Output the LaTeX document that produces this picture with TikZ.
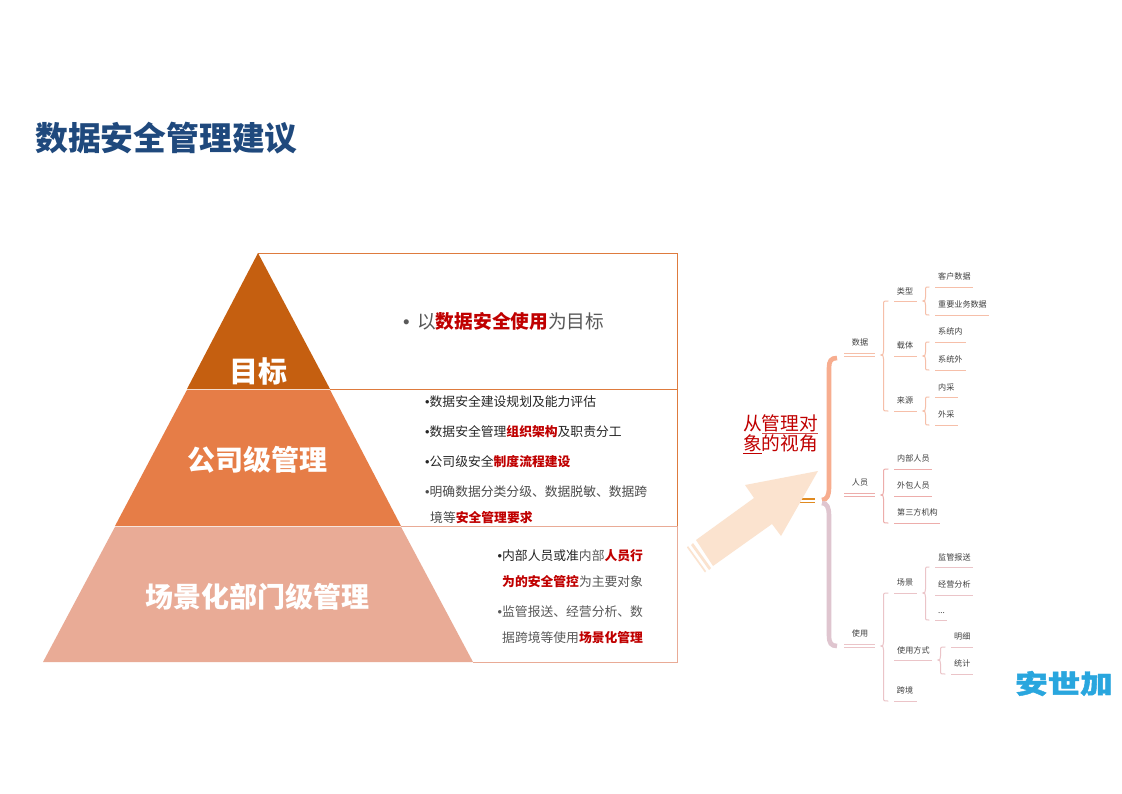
\documentclass[tikz,border=0pt]{standalone}
\usepackage{fontspec}
\usetikzlibrary{calc}
\setmainfont{Noto Sans CJK SC}
\newfontfamily\bulfont{Liberation Sans}
\newfontfamily\logofont[BoldFeatures={FakeBold=1.6}]{Noto Sans CJK SC}
\definecolor{titleblue}{HTML}{1F497D}
\definecolor{tierA}{HTML}{C55F10}
\definecolor{tierB}{HTML}{E67D47}
\definecolor{tierC}{HTML}{E9AB96}
\definecolor{frameA}{HTML}{DE7B3E}
\definecolor{hired}{HTML}{C00000}
\definecolor{txtdark}{HTML}{262626}
\definecolor{txtgrey}{HTML}{595959}
\definecolor{arrowfill}{HTML}{FBE3CF}
\definecolor{brA}{HTML}{F7AD8F}
\definecolor{brC}{HTML}{DFC5CF}
\definecolor{lineA}{HTML}{F6BFA9}
\definecolor{lineB}{HTML}{EDADAB}
\definecolor{lineC}{HTML}{EBC4C8}
\definecolor{stem}{HTML}{E08A20}
\definecolor{logo}{HTML}{29A6DE}
\newcommand{\hl}[1]{{\bfseries\color{hired}#1}}
\newcommand{\bul}{{\bulfont •}}
\newcommand{\fs}[1]{\fontsize{#1}{#1}\selectfont}
\tikzset{
  txt/.style={inner sep=0pt,anchor=west,font=\fs{12.8},text=txtdark},
  tiertxt/.style={inner sep=0pt,text=white,font=\fs{28}\bfseries},
  mm/.style={inner sep=0pt,text=black!75,font=\fs{8.1}},
}
% \lab{name}{text x left}{text y}{text}
\newcommand{\lab}[4]{%
  \node[mm,anchor=west] (#1) at (#2,#3) {#4};
}
\newcommand{\ul}[5]{%
  \coordinate (#1-l) at (#2,#4);
  \coordinate (#1-r) at (#3,#4);
  \draw[#5,line width=1pt] (#1-l) -- (#1-r);
}
\newcommand{\dul}[5]{%
  \coordinate (#1-l) at (#2,#4);
  \coordinate (#1-r) at (#3,#4);
  \draw[#5,line width=1.1pt] ($(#1-l)+(0,-1.5)$) -- ($(#1-r)+(0,-1.5)$);
  \draw[#5,line width=1.1pt] ($(#1-l)+(0,1.5)$) -- ($(#1-r)+(0,1.5)$);
}
% \brc{parent}{top child}{bottom child}{colour}
\newcommand{\brc}[4]{%
  \draw[#4,line width=1pt,line cap=round] let \p1=(#1-r), \p2=(#2-l), \p3=(#3-l) in
    ({\x2-6pt},\y2) .. controls ({\x1+8.5pt},\y2) and ({\x1+8.5pt},\y2) .. ({\x1+8.5pt},{\y2-4pt})
    -- ({\x1+8.5pt},{\y1+4pt}) .. controls ({\x1+8.5pt},{\y1+1pt}) and ({\x1+8pt},\y1) .. ({\x1+6pt},\y1)
    .. controls ({\x1+8pt},\y1) and ({\x1+8.5pt},{\y1-1pt}) .. ({\x1+8.5pt},{\y1-4pt})
    -- ({\x1+8.5pt},{\y3+4pt}) .. controls ({\x1+8.5pt},\y3) and ({\x1+8.5pt},\y3) .. ({\x2-6pt},\y3);
}
\begin{document}
\begin{tikzpicture}[x=1pt,y=-1pt]
\useasboundingbox (0,0) rectangle (1122,793);
\fill[white] (0,0) rectangle (1122,793);

\node[inner sep=0pt,anchor=west,text=titleblue,font=\fs{32.8}\bfseries] (title) at (35,138.5) {数据安全管理建议};

% frames
\draw[frameA,line width=.9pt] (258,253) -- (677,253) -- (677,389);
\draw[frameA,line width=.9pt] (330,389) -- (677,389) -- (677,526);
\draw[tierC,line width=.9pt] (401,526) -- (677,526) -- (677,662) -- (473,662);

% pyramid
\fill[tierA] (258,253) -- (330,389) -- (187,389) -- cycle;
\fill[tierB] (187,389.8) -- (330,389.8) -- (401,526) -- (115,526) -- cycle;
\fill[tierC] (115,526.8) -- (401,526.8) -- (473,662) -- (43,662) -- cycle;
\node[tiertxt,font=\fs{29}\bfseries] (t1) at (258,371) {目标};
\node[tiertxt] (t2) at (257.5,459.5) {公司级管理};
\node[tiertxt] (t3) at (257,596.5) {场景化部门级管理};

% right text
\node[txt,font=\fs{18.7},text=txtgrey] (a1) at (403,321) {\bul\hspace{7.5pt}以\hl{数据安全使用}为目标};
\node[txt] (b1) at (425,402) {\bul 数据安全建设规划及能力评估};
\node[txt] (b2) at (425,432) {\bul 数据安全管理\hl{组织架构}及职责分工};
\node[txt] (b3) at (425,462) {\bul 公司级安全\hl{制度流程建设}};
\node[txt,text=txtgrey!85!black] (b4) at (425,491.5) {\bul 明确数据分类分级、数据脱敏、数据跨};
\node[txt,text=txtgrey!85!black] (b5) at (430,517.5) {境等\hl{安全管理要求}};
\node[txt] (c1) at (497.5,556) {\bul 内部人员或准{\color{txtgrey}内部}\hl{人员行}};
\node[txt,text=txtgrey] (c2) at (502,582) {\hl{为的安全管控}为主要对象};
\node[txt,text=txtgrey] (c3) at (497.5,612) {\bul 监管报送、经营分析、数};
\node[txt,text=txtgrey] (c4) at (502,638) {据跨境等使用\hl{场景化管理}};

% main brace
\draw[brA,line width=4.6pt] (837,358) .. controls (831,358) and (829,361) .. (829,368) -- (829,488) .. controls (829,495) and (827,500) .. (822,500);
\draw[brC,line width=4.6pt] (822,503) .. controls (827,503) and (829,508) .. (829,515) -- (829,635) .. controls (829,643) and (831,646) .. (837,646);
\draw[stem,line width=1.7pt] (800,499.3) -- (815,499.3);
\draw[stem,line width=1.7pt] (800,502.5) -- (815,502.5);

% arrow
\fill[arrowfill] (818,471) -- (745,485) -- (754,498) -- (696,540) -- (713,566) -- (772,524) -- (781,536) -- cycle;
\fill[arrowfill] (693,543) -- (711,568) -- (709,570) -- (691,545) -- cycle;
\fill[arrowfill] (688,546) -- (706,571) -- (705,572.5) -- (687,547.5) -- cycle;

% arrow label
\node[inner sep=0pt,anchor=west,text=hired,font=\fs{18.7}] (v1) at (743,423.5) {从管理对};
\node[inner sep=0pt,anchor=west,text=hired,font=\fs{18.7}] (v2) at (743,443.5) {象的视角};
\draw[hired!70,line width=1.1pt] (762,433.5) -- (818,433.5);
\draw[hired,line width=1.3pt] (743,453.5) -- (761.7,453.5);

% mind map: level 1
\node[mm] (m1) at (860,342) {数据};
\dul{m1}{844}{875}{355}{lineA}
\node[mm] (m2) at (860,482) {人员};
\dul{m2}{844}{875}{495}{lineB}
\node[mm] (m3) at (860,633) {使用};
\dul{m3}{844}{875}{646}{lineC}

% data
\node[mm] (d1) at (905,291) {类型};   \ul{d1}{894}{917}{301}{lineA}
\node[mm] (d2) at (905,345) {载体};   \ul{d2}{894}{917}{356}{lineA}
\node[mm] (d3) at (905,400) {来源};   \ul{d3}{894}{917}{411}{lineA}
\brc{m1}{d1}{d3}{lineA}
\lab{e1}{938}{276}{客户数据}       \ul{e1}{935}{973}{287}{lineA}
\lab{e2}{938}{304}{重要业务数据}   \ul{e2}{935}{989}{315}{lineA}
\lab{e3}{938}{331}{系统内}         \ul{e3}{935}{966}{342}{lineA}
\lab{e4}{938}{359}{系统外}         \ul{e4}{935}{966}{370}{lineA}
\lab{e5}{938}{387}{内采}           \ul{e5}{935}{958}{397}{lineA}
\lab{e6}{938}{414}{外采}           \ul{e6}{935}{958}{425}{lineA}
\brc{d1}{e1}{e2}{lineA}
\brc{d2}{e3}{e4}{lineA}
\brc{d3}{e5}{e6}{lineA}

% people
\lab{p1}{897}{458}{内部人员}   \ul{p1}{894}{932}{469}{lineB}
\lab{p2}{897}{485}{外包人员}   \ul{p2}{894}{932}{496}{lineB}
\lab{p3}{897}{512}{第三方机构} \ul{p3}{894}{940}{523}{lineB}
\brc{m2}{p1}{p3}{lineB}

% use
\node[mm] (u1) at (905,582) {场景};     \ul{u1}{894}{917}{593}{lineC}
\lab{u2}{897}{650}{使用方式}            \ul{u2}{894}{932}{660}{lineC}
\node[mm] (u3) at (905,690) {跨境};     \ul{u3}{894}{917}{701}{lineC}
\brc{m3}{u1}{u3}{lineC}
\lab{s1}{938}{557}{监管报送}            \ul{s1}{935}{973}{567}{lineC}
\lab{s2}{938}{584}{经营分析}            \ul{s2}{935}{973}{595}{lineC}
\lab{s3}{938}{613}{...}                 \ul{s3}{935}{947}{620}{lineC}
\brc{u1}{s1}{s3}{lineC}
\lab{w1}{954}{636}{明细}                \ul{w1}{951}{973}{647}{lineC}
\lab{w2}{954}{663}{统计}                \ul{w2}{951}{973}{674}{lineC}
\brc{u2}{w1}{w2}{lineC}

% logo
\node[inner sep=0pt,anchor=west,text=logo,font=\logofont\bfseries\fs{26}] (logo) at (1015,683.5) {\scalebox{1.25}[1]{安世加}};
\end{tikzpicture}
\end{document}
